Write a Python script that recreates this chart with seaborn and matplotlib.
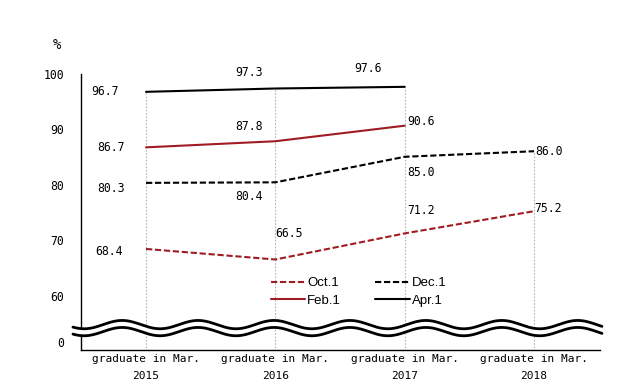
import numpy as np
import pandas as pd
import matplotlib
matplotlib.use("Agg")
import matplotlib.pyplot as plt
import seaborn as sns

# data
years = ["2015", "2016", "2017", "2018"]
series_names = ["Oct.1", "Dec.1", "Feb.1", "Apr.1"]
oct1 = [68.4, 66.5, 71.2, 75.2]
dec1 = [80.3, 80.4, 85.0, 86.0]
feb1 = [86.7, 87.8, 90.6, np.nan]
apr1 = [96.7, 97.3, 97.6, np.nan]
y_ticks = [60, 70, 80, 90, 100]
x_label_prefix = "graduate in Mar."

DARK_RED = "#A01C22"
MONO = "DejaVu Sans Mono"

rows = []
for name, vals in zip(series_names, [oct1, dec1, feb1, apr1]):
    for i, v in enumerate(vals):
        if not np.isnan(v):
            rows.append({"pos": i, "value": v, "series": name})
df = pd.DataFrame(rows)

sns.set_style("white")
plt.rcParams["text.color"] = "black"
plt.rcParams["xtick.color"] = "black"
plt.rcParams["ytick.color"] = "black"
plt.rcParams["axes.labelcolor"] = "black"

fig = plt.figure(figsize=(6.37, 3.91), dpi=100)
ax = fig.add_axes([0.1267, 0.1049, 0.8153, 0.7071])

# drop lines from highest value down to the axis
tops = df.groupby("pos")["value"].max()
ax.vlines(tops.index, 50, tops.values, colors="#b4b4b4", linestyles=(0, (1.5, 1.5)),
          linewidth=0.8, zorder=1)

palette = {"Oct.1": DARK_RED, "Dec.1": "black", "Feb.1": DARK_RED, "Apr.1": "black"}
dashes = {"Oct.1": (3, 1.3), "Dec.1": (3, 1.3), "Feb.1": "", "Apr.1": ""}
sns.lineplot(data=df, x="pos", y="value", hue="series", style="series",
             hue_order=series_names, style_order=series_names,
             palette=palette, dashes=dashes, linewidth=1.5,
             errorbar=None, legend=False, ax=ax, zorder=3)

# value labels (offsets in pixels, label centre relative to point)
offsets = {
    "Oct.1": [(-37, -3), (14, 26), (16, 23), (14, 3)],
    "Dec.1": [(-35, -6), (-26, -14), (16, -16), (15, 0)],
    "Feb.1": [(-35, 0), (-26, 15), (16, 4), None],
    "Apr.1": [(-41, 0), (-26, 16), (-37, 18), None],
}
for name, vals in zip(series_names, [oct1, dec1, feb1, apr1]):
    for i, v in enumerate(vals):
        if np.isnan(v):
            continue
        dx, dy = offsets[name][i]
        ax.annotate(f"{v:.1f}", (i, v), xytext=(dx, dy), textcoords="offset pixels",
                    ha="center", va="center", fontsize=8.3, family=MONO, zorder=5)

ax.set_xlim(-0.505, 3.51)
ax.set_ylim(50.2, 100)
ax.set_xticks(range(len(years)))
ax.set_xticklabels([f"{x_label_prefix}\n{y}" for y in years], family=MONO,
                   fontsize=8, linespacing=1.8)
ax.set_yticks([51.6] + y_ticks)
ax.set_yticklabels(["0"] + [str(t) for t in y_ticks], family=MONO, fontsize=8.3)
ax.tick_params(axis="y", direction="in", length=5, width=0.8, pad=12)
ax.tick_params(axis="x", length=0, pad=3)
ax.yaxis.get_major_ticks()[0].tick1line.set_visible(False)
ax.set_xlabel("")
ax.set_ylabel("")
for s in ["top", "right"]:
    ax.spines[s].set_visible(False)
for s in ["left", "bottom"]:
    ax.spines[s].set_color("black")
    ax.spines[s].set_linewidth(1.0)

# wavy axis break
wx = np.linspace(-0.565, 3.525, 600)
upper = 54.77 + 0.75 * np.cos(2 * np.pi * (wx + 0.185) / 0.587)
lower = upper - 1.26
ax.fill_between(wx, lower, upper, color="white", zorder=6, clip_on=False, linewidth=0)
ax.plot(wx, upper, color="black", linewidth=2.0, zorder=7, clip_on=False)
ax.plot(wx, lower, color="black", linewidth=2.0, zorder=7, clip_on=False)

fig.text(57 / 637, 1 - 45 / 391, "%", family=MONO, fontsize=10, ha="center", va="center")

# legend: Oct.1 / Dec.1 on top row, Feb.1 / Apr.1 below
lines = ax.lines[:4]
handles = [lines[0], lines[2], lines[1], lines[3]]
labels = ["Oct.1", "Feb.1", "Dec.1", "Apr.1"]
leg = ax.legend(handles, labels, ncol=2, frameon=False, fontsize=9.5,
                handlelength=2.6, handletextpad=0.15, columnspacing=2.6,
                labelspacing=0.42, loc="upper left",
                bbox_to_anchor=(271 / 637, 1 - 277 / 391),
                bbox_transform=fig.transFigure, borderaxespad=0, borderpad=0)
for t in leg.get_texts():
    t.set_family("Liberation Sans")

fig.savefig("out.png", dpi=100)
